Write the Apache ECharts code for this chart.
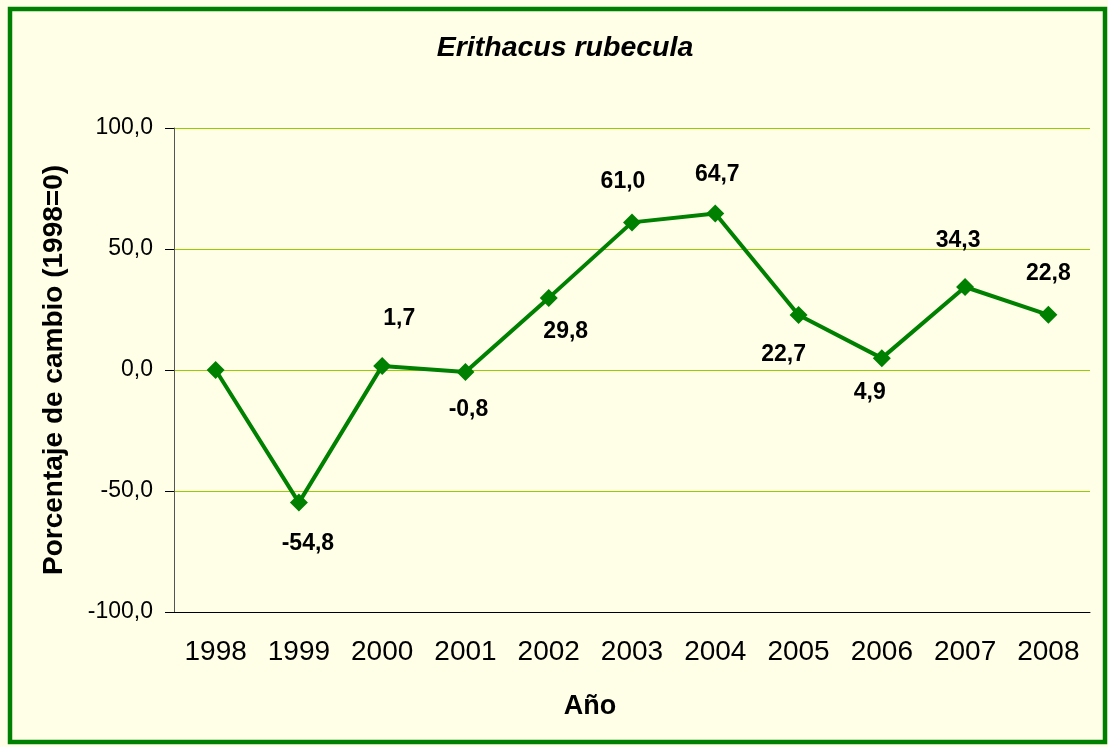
<!DOCTYPE html>
<html>
<head>
<meta charset="utf-8">
<script src="https://cdn.jsdelivr.net/npm/echarts@6/dist/echarts.min.js"></script>
<style>
  html, body { margin: 0; padding: 0; background: #fff; }
  #chart { width: 1108px; height: 747px; }
</style>
</head>
<body>
<div id="chart"></div>
<script>
// data
const years = ['1998', '1999', '2000', '2001', '2002', '2003', '2004', '2005', '2006', '2007', '2008']
const changePct = [0, -54.8, 1.7, -0.8, 29.8, 61.0, 64.7, 22.7, 4.9, 34.3, 22.8]
const showLabel = [false, true, true, true, true, true, true, true, true, true, true]
// label offset from each point, in pixels
const labelOffsets = [[0, 0], [9, 41], [17, -47], [3, 38], [17, 34], [-9, -41], [2, -39], [-15, 40], [-12, 35], [-7, -46], [0, -41]]

const chart = echarts.init(document.getElementById('chart'), null, { renderer: 'canvas' })

const fontFam = 'Liberation Sans, Arial, sans-serif'

const seriesData = changePct.map((v, i) => ({
  value: v,
  label: {
    show: showLabel[i],
    position: 'inside',
    offset: labelOffsets[i]
  }
}))

chart.setOption({
  backgroundColor: '#FFFFE8',
  animation: false,
  title: [{
    text: 'Erithacus rubecula',
    left: 560,
    top: 29,
    textAlign: 'center',
    textStyle: { fontFamily: fontFam, fontSize: 28.5, fontStyle: 'italic', fontWeight: 'bold', color: '#000' }
  }, {
    text: 'Año',
    left: 585,
    top: 688,
    textAlign: 'center',
    textStyle: { fontFamily: fontFam, fontSize: 27, fontWeight: 'bold', color: '#000' }
  }],
  graphic: [{
    type: 'rect',
    shape: { x: 10, y: 9, width: 1095, height: 733 },
    style: { fill: null, stroke: '#008000', lineWidth: 4.5 },
    silent: true
  }],
  grid: { left: 174, right: 18, top: 128, bottom: 135 },
  xAxis: {
    type: 'category',
    data: years,
    boundaryGap: true,
    axisLine: { onZero: false, lineStyle: { color: '#000', width: 1 } },
    axisTick: { length: 8, lineStyle: { color: '#000' } },
    axisLabel: { fontFamily: fontFam, fontSize: 28, color: '#000', margin: 26 }
  },
  yAxis: {
    type: 'value',
    min: -100,
    max: 100,
    interval: 50,
    name: 'Porcentaje de cambio (1998=0)',
    nameLocation: 'middle',
    nameGap: 106,
    nameTextStyle: { fontFamily: fontFam, fontSize: 28, fontWeight: 'bold', color: '#000' },
    axisLine: { show: true, lineStyle: { color: '#555', width: 1 } },
    axisTick: { show: true, length: 9, lineStyle: { color: '#000' } },
    axisLabel: {
      fontFamily: fontFam, fontSize: 23, color: '#000', margin: 21,
      formatter: v => v.toFixed(1).replace('.', ',')
    },
    splitLine: { lineStyle: { color: '#99CC00', width: 1 } }
  },
  series: [{
    type: 'line',
    data: seriesData,
    symbol: 'diamond',
    symbolSize: 18,
    lineStyle: { color: '#008000', width: 4 },
    itemStyle: { color: '#008000' },
    label: {
      fontFamily: fontFam,
      fontSize: 23,
      fontWeight: 'bold',
      color: '#000',
      formatter: p => p.value.toFixed(1).replace('.', ',')
    }
  }]
})
</script>
</body>
</html>
